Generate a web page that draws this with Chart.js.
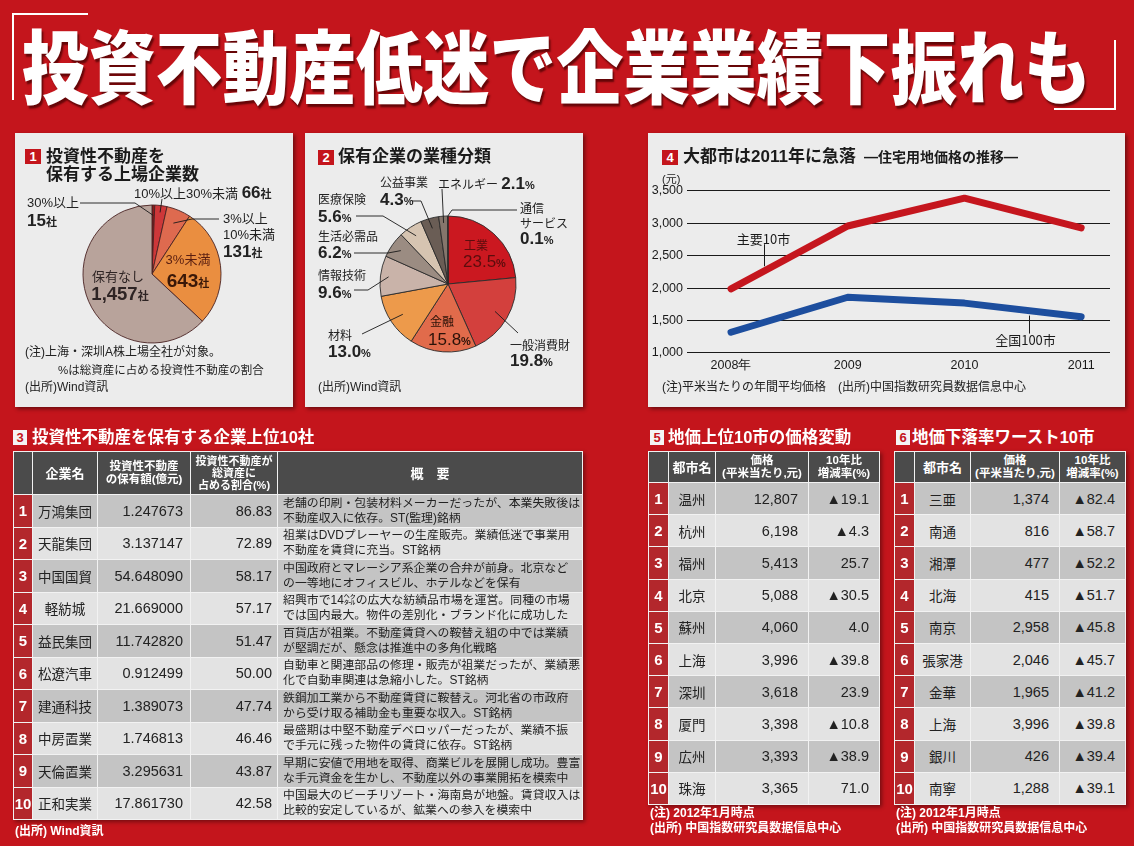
<!DOCTYPE html>
<html lang="ja">
<head>
<meta charset="utf-8">
<title>投資不動産低迷で企業業績下振れも</title>
<script src="https://cdn.jsdelivr.net/npm/chart.js@4.4.1/dist/chart.umd.min.js"></script>
<style>
  html, body { margin: 0; padding: 0; }
  body {
    width: 1134px; height: 846px; position: relative; overflow: hidden;
    background: #c4151c;
    font-family: "Liberation Sans", "Noto Sans CJK JP", sans-serif;
    color: #222;
  }
  .a { position: absolute; white-space: nowrap; }
  #title { left: 22px; top: 22px; font: 900 80px/80px "Noto Sans CJK JP", sans-serif; color: #fff;
           transform: scaleX(0.835); transform-origin: 0 0; text-shadow: 2px 3px 2px rgba(70,0,0,.75); }
  .brk { position: absolute; background: #fff; }
  .panel { position: absolute; background: #ececec; box-shadow: 2px 2px 4px rgba(0,0,0,.45); }
  .panel canvas { position: absolute; left: 0; top: 0; }
  .badge { position: absolute; background: #c4151c; color: #fff; font: bold 13px/15px "Liberation Sans", sans-serif;
           text-align: center; width: 16px; height: 15px; }
  .wbadge { background: #f4f4f4; color: #c4151c; width: 14px; }
  .pt { font-weight: bold; font-size: 17px; line-height: 18px; color: #1b1b1b; }
  .tt { font-weight: bold; font-size: 16.5px; line-height: 18px; color: #fff; }
  .l1 { font-size: 13px; line-height: 16px; }
  .l2 { font-size: 12px; line-height: 15px; }
  .n { font-weight: bold; font-size: 17px; line-height: 16px; }
  .u { font-weight: bold; font-size: 11px; line-height: 16px; }
  .note { font-size: 12px; line-height: 15px; color: #222; }
  .wnote { font-size: 12px; line-height: 15px; color: #fff; font-weight: bold; }

  table.t { position: absolute; border-collapse: collapse; table-layout: fixed; box-shadow: 2px 2px 4px rgba(0,0,0,.4); }
  table.t th, table.t td { border: 1.5px solid #f2f2f2; padding: 0; overflow: hidden; white-space: nowrap; }
  table.t th { background: #4b4b4b; color: #fff; font-weight: bold; font-size: 12px; line-height: 13px; text-align: center; }
  table.t tr.odd td { background: #c4c4c4; }
  table.t tr.even td { background: #e3e3e3; }
  table.t td.rk { background: #b3272c !important; color: #fff; font-weight: bold; font-size: 15px; text-align: center; }
  table.t td.nm { text-align: center; font-size: 13.5px; }
  table.t td.v { text-align: right; font-size: 14.5px; padding-right: 7px; }
  table.t td.s { text-align: left; font-size: 11.9px; line-height: 15px; padding-left: 5px; }
</style>
</head>
<body>

<!-- ── Title ─────────────────────────────────────────────────────────────── -->
<div class="brk" style="left:12px;top:13px;width:76px;height:2px"></div>
<div class="brk" style="left:12px;top:13px;width:2px;height:87px"></div>
<div class="brk" style="left:1114px;top:40px;width:2px;height:70px"></div>
<div class="brk" style="left:1054px;top:108px;width:62px;height:2px"></div>
<div id="title" class="a">投資不動産低迷で企業業績下振れも</div>

<!-- ── Panel 1 ───────────────────────────────────────────────────────────── -->
<div class="panel" style="left:15px;top:133px;width:278px;height:274px">
  <canvas id="pie1" width="278" height="274"></canvas>
</div>
<div class="badge" style="left:25px;top:149px">1</div>
<div class="a pt" style="left:46px;top:148px">投資性不動産を<br>保有する上場企業数</div>
<div class="a l1" style="left:134px;top:185px">10%以上30%未満 <span class="n">66</span><span class="u">社</span></div>
<div class="a l1" style="left:27px;top:195px">30%以上</div>
<div class="a l1" style="left:27px;top:213px"><span class="n">15</span><span class="u">社</span></div>
<div class="a l1" style="left:223px;top:211px">3%以上<br>10%未満</div>
<div class="a l1" style="left:223px;top:244px"><span class="n">131</span><span class="u">社</span></div>
<div class="a l1" style="left:157px;top:252px;width:62px;text-align:center;color:#5a1e10">3%未満</div>
<div class="a" style="left:157px;top:271px;width:62px;text-align:center;color:#3a1808;line-height:20px"><span class="n" style="font-size:19px;line-height:20px">643</span><span class="u">社</span></div>
<div class="a l1" style="left:88px;top:269px;width:60px;text-align:center;color:#2e2424">保有なし</div>
<div class="a" style="left:84px;top:284px;width:72px;text-align:center;color:#2e2424;line-height:20px"><span class="n" style="font-size:18.5px;line-height:20px">1,457</span><span class="u">社</span></div>
<div class="a note" style="left:25px;top:345px">(注)上海・深圳A株上場全社が対象。</div>
<div class="a note" style="left:58px;top:363px;font-size:11.5px">%は総資産に占める投資性不動産の割合</div>
<div class="a note" style="left:25px;top:380px">(出所)Wind資訊</div>

<!-- ── Panel 2 ───────────────────────────────────────────────────────────── -->
<div class="panel" style="left:305px;top:133px;width:278px;height:274px">
  <canvas id="pie2" width="278" height="274"></canvas>
</div>
<div class="badge" style="left:318px;top:150px">2</div>
<div class="a pt" style="left:338px;top:148px">保有企業の業種分類</div>
<div class="a l2" style="left:380px;top:176px">公益事業</div>
<div class="a l2" style="left:380px;top:192px"><span class="n">4.3</span><span class="u">%</span></div>
<div class="a l2" style="left:438px;top:176px">エネルギー <span class="n">2.1</span><span class="u">%</span></div>
<div class="a l2" style="left:520px;top:202px">通信<br>サービス</div>
<div class="a l2" style="left:520px;top:231px"><span class="n">0.1</span><span class="u">%</span></div>
<div class="a l2" style="left:318px;top:193px">医療保険</div>
<div class="a l2" style="left:318px;top:209px"><span class="n">5.6</span><span class="u">%</span></div>
<div class="a l2" style="left:318px;top:230px">生活必需品</div>
<div class="a l2" style="left:318px;top:245px"><span class="n">6.2</span><span class="u">%</span></div>
<div class="a l2" style="left:318px;top:269px">情報技術</div>
<div class="a l2" style="left:318px;top:285px"><span class="n">9.6</span><span class="u">%</span></div>
<div class="a l2" style="left:328px;top:329px">材料</div>
<div class="a l2" style="left:328px;top:344px"><span class="n">13.0</span><span class="u">%</span></div>
<div class="a l2" style="left:430px;top:315px;color:#2a1208">金融</div>
<div class="a l2" style="left:428px;top:332px;color:#2a1208"><span class="n" style="font-weight:normal;font-size:17px">15.8</span><span class="u">%</span></div>
<div class="a l2" style="left:464px;top:239px;color:#5c0d0d">工業</div>
<div class="a l2" style="left:463px;top:254px;color:#5c0d0d"><span class="n" style="font-weight:normal;font-size:17px">23.5</span><span class="u">%</span></div>
<div class="a l2" style="left:510px;top:339px">一般消費財</div>
<div class="a l2" style="left:510px;top:353px"><span class="n">19.8</span><span class="u">%</span></div>
<div class="a note" style="left:318px;top:380px">(出所)Wind資訊</div>

<!-- ── Panel 4 ───────────────────────────────────────────────────────────── -->
<div class="panel" style="left:648px;top:133px;width:477px;height:274px">
  <canvas id="line4" width="477" height="274"></canvas>
</div>
<div class="badge" style="left:662px;top:150px">4</div>
<div class="a pt" style="left:683px;top:148px">大都市は2011年に急落<span style="font-size:14px;margin-left:8px">—住宅用地価格の推移—</span></div>
<div class="a" style="left:662px;top:172px;font-size:11px;line-height:14px">(元)</div>
<div class="a note" style="left:662px;top:380px">(注)平米当たりの年間平均価格　(出所)中国指数研究員数据信息中心</div>

<!-- ── Table 3 ───────────────────────────────────────────────────────────── -->
<div class="badge wbadge" style="left:13px;top:430px">3</div>
<div class="a tt" style="left:32px;top:428px">投資性不動産を保有する企業上位10社</div>
<table class="t" id="t3" style="left:13px;top:451px;width:569px"></table>
<div class="a wnote" style="left:15px;top:824px">(出所) Wind資訊</div>

<!-- ── Table 5 ───────────────────────────────────────────────────────────── -->
<div class="badge wbadge" style="left:650px;top:430px">5</div>
<div class="a tt" style="left:668px;top:428px">地価上位10市の価格変動</div>
<table class="t" id="t5" style="left:648px;top:451px;width:231px"></table>
<div class="a wnote" style="left:650px;top:806px">(注) 2012年1月時点<br>(出所) 中国指数研究員数据信息中心</div>

<!-- ── Table 6 ───────────────────────────────────────────────────────────── -->
<div class="badge wbadge" style="left:896px;top:430px">6</div>
<div class="a tt" style="left:912px;top:428px">地価下落率ワースト10市</div>
<table class="t" id="t6" style="left:894px;top:451px;width:231px"></table>
<div class="a wnote" style="left:896px;top:806px">(注) 2012年1月時点<br>(出所) 中国指数研究員数据信息中心</div>

<script>
// ── Data ─────────────────────────────────────────────────────────────────────
const HOLD_LABELS = ['30%以上', '10%以上30%未満', '3%以上10%未満', '3%未満', '保有なし'];
const HOLD_COUNTS = [15, 66, 131, 643, 1457];
const HOLD_COLORS = ['#8c1a1d', '#cd3739', '#de6a4f', '#ea8e40', '#b8a39b'];

const SECTOR_LABELS = ['工業', '一般消費財', '金融', '材料', '情報技術', '生活必需品', '医療保険', '公益事業', 'エネルギー', '通信サービス'];
const SECTOR_SHARES = [23.5, 19.8, 15.8, 13.0, 9.6, 6.2, 5.6, 4.3, 2.1, 0.1];
const SECTOR_COLORS = ['#cb1820', '#d3403d', '#e16b4b', '#ed9a4b', '#c9b3a9', '#9b8c82', '#d6c4b1', '#6a5d55', '#85766c', '#9a9a9a'];

const YEARS        = [2008, 2009, 2010, 2011];
const YEAR_LABELS  = ['2008年', '2009', '2010', '2011'];
const PRICE_TOP10  = [1990, 2960, 3390, 2930];   // 主要10市
const PRICE_ALL100 = [1320, 1860, 1770, 1560];   // 全国100市
const Y_MIN = 1000, Y_MAX = 3500, Y_STEP = 500;

const CO_NAMES    = ['万鴻集団', '天龍集団', '中国国貿', '軽紡城', '益民集団', '松遼汽車', '建通科技', '中房置業', '天倫置業', '正和実業'];
const CO_HOLDINGS = [1.247673, 3.137147, 54.648090, 21.669000, 11.742820, 0.912499, 1.389073, 1.746813, 3.295631, 17.861730];
const CO_RATIOS   = [86.83, 72.89, 58.17, 57.17, 51.47, 50.00, 47.74, 46.46, 43.87, 42.58];
const CO_NOTES = [
  ['老舗の印刷・包装材料メーカーだったが、本業失敗後は', '不動産収入に依存。ST(監理)銘柄'],
  ['祖業はDVDプレーヤーの生産販売。業績低迷で事業用', '不動産を賃貸に充当。ST銘柄'],
  ['中国政府とマレーシア系企業の合弁が前身。北京など', 'の一等地にオフィスビル、ホテルなどを保有'],
  ['紹興市で14㌶の広大な紡績品市場を運営。同種の市場', 'では国内最大。物件の差別化・ブランド化に成功した'],
  ['百貨店が祖業。不動産賃貸への鞍替え組の中では業績', 'が堅調だが、懸念は推進中の多角化戦略'],
  ['自動車と関連部品の修理・販売が祖業だったが、業績悪', '化で自動車関連は急縮小した。ST銘柄'],
  ['鉄鋼加工業から不動産賃貸に鞍替え。河北省の市政府', 'から受け取る補助金も重要な収入。ST銘柄'],
  ['最盛期は中堅不動産デベロッパーだったが、業績不振', 'で手元に残った物件の賃貸に依存。ST銘柄'],
  ['早期に安値で用地を取得、商業ビルを展開し成功。豊富', 'な手元資金を生かし、不動産以外の事業開拓を模索中'],
  ['中国最大のビーチリゾート・海南島が地盤。賃貸収入は', '比較的安定しているが、鉱業への参入を模索中'],
];

const TOP_CITIES  = ['温州', '杭州', '福州', '北京', '蘇州', '上海', '深圳', '厦門', '広州', '珠海'];
const TOP_PRICES  = [12807, 6198, 5413, 5088, 4060, 3996, 3618, 3398, 3393, 3365];
const TOP_CHANGES = [-19.1, -4.3, 25.7, -30.5, 4.0, -39.8, 23.9, -10.8, -38.9, 71.0];

const LOW_CITIES  = ['三亜', '南通', '湘潭', '北海', '南京', '張家港', '金華', '上海', '銀川', '南寧'];
const LOW_PRICES  = [1374, 816, 477, 415, 2958, 2046, 1965, 3996, 426, 1288];
const LOW_CHANGES = [-82.4, -58.7, -52.2, -51.7, -45.8, -45.7, -41.2, -39.8, -39.4, -39.1];

// ── Helpers ──────────────────────────────────────────────────────────────────
const fmtChange = v => (v < 0 ? '▲' + Math.abs(v).toFixed(1) : v.toFixed(1));
const fmtPrice  = v => v.toLocaleString('en-US');

// leader lines from label anchors (page coords) into a slice
const leaderPlugin = {
  id: 'leaders',
  afterDatasetsDraw(chart, args, opts) {
    const ctx = chart.ctx;
    const arcs = chart.getDatasetMeta(0).data;
    ctx.save();
    ctx.strokeStyle = '#1a1a1a';
    ctx.lineWidth = 0.9;
    for (const l of opts.lines) {
      const a = arcs[l.i].getProps(['x', 'y', 'startAngle', 'endAngle', 'outerRadius'], true);
      const mid = (a.startAngle + a.endAngle) / 2;
      ctx.beginPath();
      l.pts.forEach(([x, y], k) => {
        if (k) ctx.lineTo(x - opts.ox, y - opts.oy);
        else ctx.moveTo(x - opts.ox, y - opts.oy);
      });
      ctx.lineTo(a.x + Math.cos(mid) * a.outerRadius * l.r, a.y + Math.sin(mid) * a.outerRadius * l.r);
      ctx.stroke();
    }
    ctx.restore();
  },
};

function pieConfig(labels, values, colors, border, radius, padding, leaders) {
  return {
    type: 'pie',
    data: {
      labels,
      datasets: [{ data: values, backgroundColor: colors, borderColor: border, borderWidth: 0.9, radius }],
    },
    options: {
      responsive: false,
      animation: false,
      events: [],
      radius,
      layout: { padding },
      plugins: { legend: { display: false }, tooltip: { enabled: false }, leaders },
    },
    plugins: [leaderPlugin],
  };
}

// ── Pie 1 ────────────────────────────────────────────────────────────────────
new Chart(document.getElementById('pie1'), pieConfig(
  HOLD_LABELS, HOLD_COUNTS, HOLD_COLORS, '#4a2323', 69,
  { left: 68, right: 72, top: 72, bottom: 64 },
  { ox: 15, oy: 133, lines: [
    { i: 0, r: 0.85, pts: [[80, 203], [135, 203]] },
    { i: 1, r: 0.9,  pts: [[162, 199]] },
    { i: 2, r: 0.8,  pts: [[219, 219], [192, 219]] },
  ] }
));

// ── Pie 2 ────────────────────────────────────────────────────────────────────
new Chart(document.getElementById('pie2'), pieConfig(
  SECTOR_LABELS, SECTOR_SHARES, SECTOR_COLORS, '#2a2a2a', 68,
  { left: 74, right: 66, top: 82, bottom: 54 },
  { ox: 305, oy: 133, lines: [
    { i: 7, r: 0.85, pts: [[412, 201], [421, 201]] },
    { i: 8, r: 0.9,  pts: [[442, 189]] },
    { i: 9, r: 1.0,  pts: [[517, 210], [452, 210]] },
    { i: 6, r: 0.85, pts: [[356, 216], [383, 216]] },
    { i: 5, r: 0.85, pts: [[354, 253], [388, 253]] },
    { i: 4, r: 0.88, pts: [[354, 290], [368, 290]] },
    { i: 3, r: 0.8,  pts: [[362, 334]] },
    { i: 1, r: 0.8,  pts: [[518, 333]] },
  ] }
));

// ── Line chart 4 ─────────────────────────────────────────────────────────────
function valueAt(series, xv) {
  for (let k = 0; k < YEARS.length - 1; k++) {
    if (xv >= YEARS[k] && xv <= YEARS[k + 1]) {
      const t = (xv - YEARS[k]) / (YEARS[k + 1] - YEARS[k]);
      return series[k] + t * (series[k + 1] - series[k]);
    }
  }
  return series[series.length - 1];
}

const calloutPlugin = {
  id: 'callouts',
  afterDatasetsDraw(chart, args, opts) {
    const { ctx, scales: { x, y } } = chart;
    ctx.save();
    ctx.font = '13px "Noto Sans CJK JP", sans-serif';
    ctx.fillStyle = '#1a1a1a';
    ctx.strokeStyle = '#1a1a1a';
    ctx.lineWidth = 1;
    ctx.textAlign = 'center';
    ctx.textBaseline = 'middle';
    for (const c of opts.items) {
      const px = Math.round(x.getPixelForValue(c.at)) + 0.5;
      const py = y.getPixelForValue(valueAt(c.series, c.at));
      ctx.beginPath();
      ctx.moveTo(px, py + c.from);
      ctx.lineTo(px, py + c.to);
      ctx.stroke();
      ctx.fillText(c.text, px + c.dx, py + c.ty);
    }
    ctx.restore();
  },
};

new Chart(document.getElementById('line4'), {
  type: 'line',
  data: {
    datasets: [
      { label: '主要10市', data: YEARS.map((yr, k) => ({ x: yr, y: PRICE_TOP10[k] })),
        borderColor: '#c5161e', borderWidth: 7, pointRadius: 0, tension: 0,
        borderCapStyle: 'round', borderJoinStyle: 'round' },
      { label: '全国100市', data: YEARS.map((yr, k) => ({ x: yr, y: PRICE_ALL100[k] })),
        borderColor: '#1d4e9e', borderWidth: 7, pointRadius: 0, tension: 0,
        borderCapStyle: 'round', borderJoinStyle: 'round' },
    ],
  },
  options: {
    responsive: false,
    animation: false,
    events: [],
    layout: { padding: { left: 0, right: 15, top: 58, bottom: 0 } },
    scales: {
      x: {
        type: 'linear', min: 2007.623, max: 2011.247,
        afterBuildTicks: s => { s.ticks = YEARS.map(v => ({ value: v })); },
        afterFit: s => { s.height = 54; },
        grid: { display: false, drawTicks: false },
        border: { display: false },
        ticks: {
          color: '#1a1a1a', padding: 5, maxRotation: 0, autoSkip: false,
          font: { family: '"Liberation Sans", sans-serif', size: 12.5 },
          callback: v => YEAR_LABELS[YEARS.indexOf(v)],
        },
      },
      y: {
        min: Y_MIN, max: Y_MAX,
        afterBuildTicks: s => {
          const t = [];
          for (let v = Y_MIN; v <= Y_MAX; v += Y_STEP) t.push({ value: v });
          s.ticks = t;
        },
        afterFit: s => { s.width = 39; },
        grid: { color: '#1a1a1a', lineWidth: 1.1, drawTicks: false },
        border: { display: false },
        ticks: {
          color: '#1a1a1a', padding: 4,
          font: { family: '"Liberation Sans", sans-serif', size: 12.5 },
          callback: v => v.toLocaleString('en-US'),
        },
      },
    },
    plugins: {
      legend: { display: false },
      tooltip: { enabled: false },
      callouts: { items: [
        { text: '主要10市',  series: PRICE_TOP10,  at: 2008.28, from: -5, to: -27, ty: -32, dx: -1 },
        { text: '全国100市', series: PRICE_ALL100, at: 2010.55, from: 5,  to: 23,  ty: 29,  dx: -4 },
      ] },
    },
  },
  plugins: [calloutPlugin],
});

// ── Tables ───────────────────────────────────────────────────────────────────
function rowClass(k) { return k % 2 === 0 ? 'odd' : 'even'; }

function buildCompanyTable() {
  let h = '<colgroup><col style="width:19px"><col style="width:65px"><col style="width:93px"><col style="width:87px"><col style="width:305px"></colgroup>';
  h += '<tr style="height:43px"><th></th><th style="font-size:13px">企業名</th>' +
       '<th style="font-size:11.5px">投資性不動産<br>の保有額(億元)</th>' +
       '<th style="font-size:11px;line-height:12px">投資性不動産が<br>総資産に<br>占める割合(%)</th>' +
       '<th style="font-size:13px">概　要</th></tr>';
  CO_NAMES.forEach((nm, k) => {
    h += `<tr class="${rowClass(k)}" style="height:32.5px"><td class="rk">${k + 1}</td><td class="nm">${nm}</td>` +
         `<td class="v">${CO_HOLDINGS[k].toFixed(6)}</td><td class="v" style="padding-right:5px">${CO_RATIOS[k].toFixed(2)}</td>` +
         `<td class="s">${CO_NOTES[k][0]}<br>${CO_NOTES[k][1]}</td></tr>`;
  });
  document.getElementById('t3').innerHTML = h;
}

function buildCityTable(id, widths, cities, prices, changes) {
  let h = '<colgroup>' + widths.map(w => `<col style="width:${w}px">`).join('') + '</colgroup>';
  h += '<tr style="height:31px"><th></th><th style="font-size:13px">都市名</th>' +
       '<th style="font-size:11.5px">価格<br>(平米当たり,元)</th>' +
       '<th style="font-size:11.5px">10年比<br>増減率(%)</th></tr>';
  cities.forEach((c, k) => {
    h += `<tr class="${rowClass(k)}" style="height:32.2px"><td class="rk">${k + 1}</td><td class="nm">${c}</td>` +
         `<td class="v" style="padding-right:10px">${fmtPrice(prices[k])}</td>` +
         `<td class="v" style="padding-right:10px">${fmtChange(changes[k])}</td></tr>`;
  });
  document.getElementById(id).innerHTML = h;
}

buildCompanyTable();
buildCityTable('t5', [20, 47, 93, 71], TOP_CITIES, TOP_PRICES, TOP_CHANGES);
buildCityTable('t6', [20, 56, 89, 66], LOW_CITIES, LOW_PRICES, LOW_CHANGES);
</script>
</body>
</html>
